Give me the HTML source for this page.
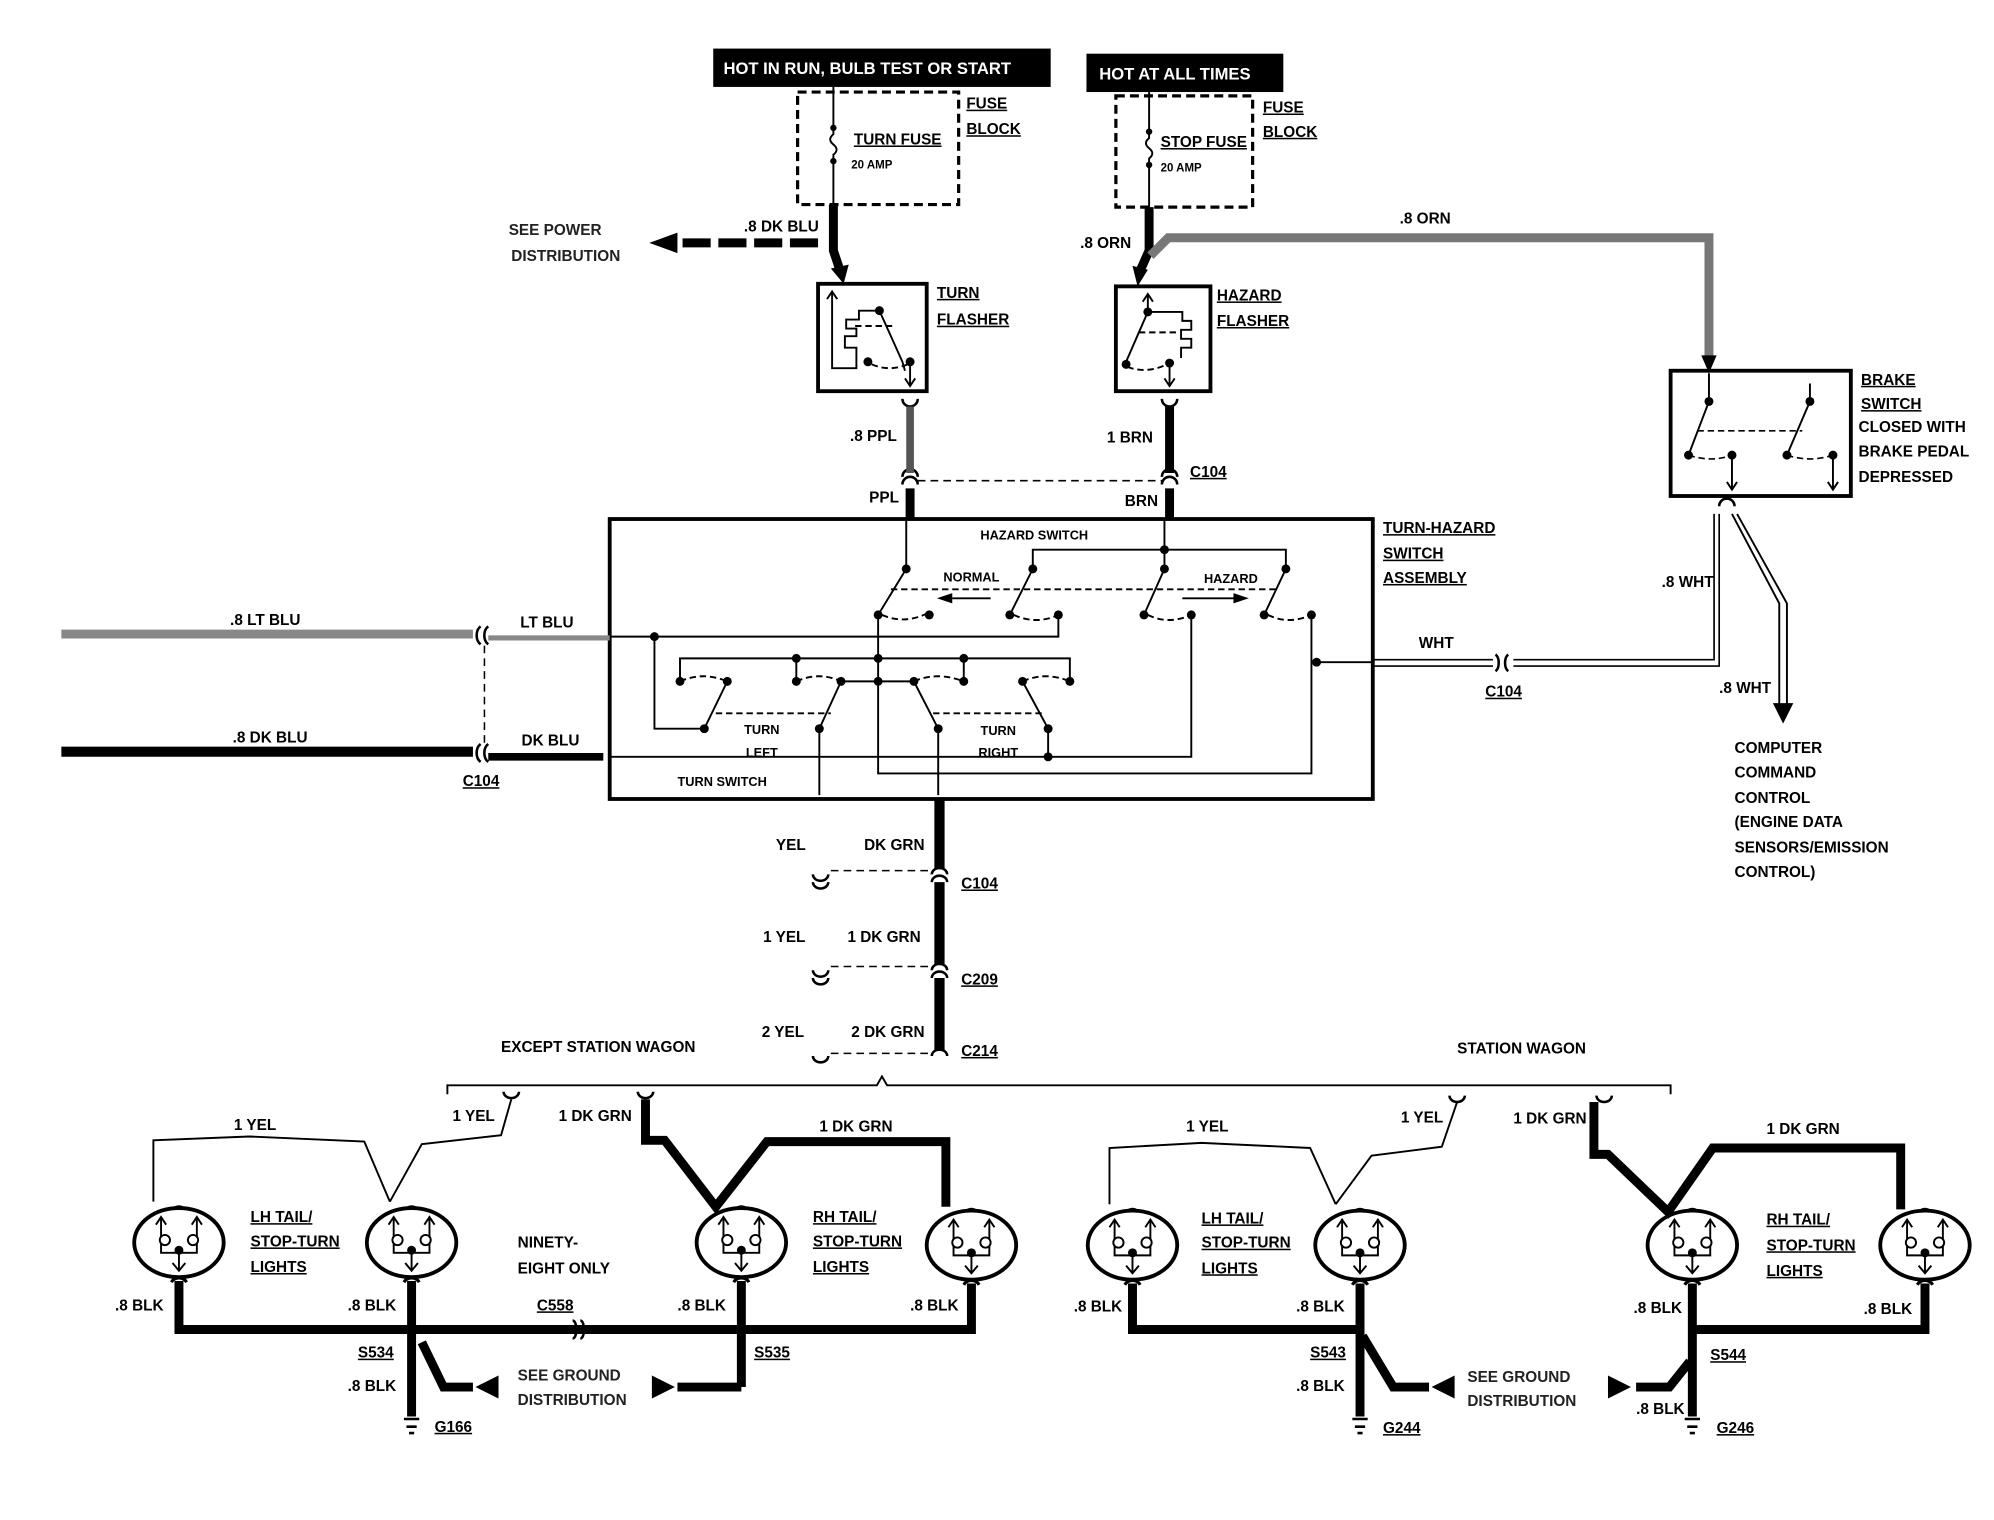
<!DOCTYPE html>
<html><head><meta charset="utf-8"><style>
html,body{margin:0;padding:0;background:#fff;}
svg{display:block;}
text{font-family:"Liberation Sans",sans-serif;font-weight:bold;font-size:12px;fill:#000;}
.u{text-decoration:underline;}
.w{fill:#fff;}
</style></head><body>
<svg width="1994" height="1520" viewBox="0 0 1560 1189" preserveAspectRatio="none" xmlns="http://www.w3.org/2000/svg">
<defs>
<g id="lamp">
 <ellipse cx="0" cy="0" rx="35" ry="27" fill="#fff" stroke="#000" stroke-width="3"/>
 <path d="M-4,-26 a5,5 0 0 1 8,0" fill="none" stroke="#000" stroke-width="2.5"/>
 <path d="M-14,-20 V8 H14 V-20 M-18,-14 L-14,-20 L-10,-14 M10,-14 L14,-20 L18,-14 M0,8 V22 M-5,16 L0,22 L5,16" fill="none" stroke="#000" stroke-width="1.5"/>
 <circle cx="-11" cy="-2" r="4" fill="#fff" stroke="#000" stroke-width="1.5"/>
 <circle cx="11" cy="-2" r="4" fill="#fff" stroke="#000" stroke-width="1.5"/>
 <circle cx="0" cy="6" r="3.5"/>
 <path d="M-6,31 a7,7 0 0 1 12,0" fill="none" stroke="#000" stroke-width="2.5"/>
</g>
</defs>

<!-- top labels -->
<rect x="558" y="38" width="264" height="30" fill="#000"/>
<text x="566" y="58" class="w" style="font-size:13px">HOT IN RUN,  BULB TEST OR START</text>
<rect x="850" y="42" width="154" height="30" fill="#000"/>
<text x="860" y="62" class="w" style="font-size:13px">HOT AT ALL TIMES</text>

<!-- fuse blocks -->
<rect x="624" y="72" width="126" height="88" fill="none" stroke="#000" stroke-width="2.5" stroke-dasharray="7,4"/>
<path d="M652,68 V105 q-5,4 0,8 q5,4 0,8 V160" fill="none" stroke="#000" stroke-width="1.5"/>
<circle cx="652" cy="100" r="2.5"/><circle cx="652" cy="126" r="2.5"/>
<text x="668" y="113" class="u">TURN FUSE</text>
<text x="666" y="132" style="font-size:9px">20 AMP</text>
<text x="756" y="85" class="u">FUSE</text><text x="756" y="105" class="u">BLOCK</text>

<rect x="873" y="75" width="107" height="87" fill="none" stroke="#000" stroke-width="2.5" stroke-dasharray="7,4"/>
<path d="M899,72 V108 q-5,4 0,8 q5,4 0,8 V162" fill="none" stroke="#000" stroke-width="1.5"/>
<circle cx="899" cy="103" r="2.5"/><circle cx="899" cy="129" r="2.5"/>
<text x="908" y="115" class="u">STOP FUSE</text>
<text x="908" y="134" style="font-size:9px">20 AMP</text>
<text x="988" y="88" class="u">FUSE</text><text x="988" y="107" class="u">BLOCK</text>

<!-- dk blu to turn flasher -->
<path d="M652,160 V196 L658,214" fill="none" stroke="#000" stroke-width="7"/>
<path d="M650,210 L660,222 L664,207 Z"/>
<path d="M640,190 H530" fill="none" stroke="#000" stroke-width="7" stroke-dasharray="22,6"/>
<path d="M530,182 L508,190 L530,198 Z"/>
<text x="582" y="181">.8 DK BLU</text>
<text x="398" y="184" style="fill:#222">SEE POWER</text>
<text x="400" y="204" style="fill:#222">DISTRIBUTION</text>

<!-- orn -->
<path d="M899,162 V196 L891,214" fill="none" stroke="#000" stroke-width="7"/>
<path d="M886,208 L890,224 L898,211 Z"/>
<text x="845" y="194">.8 ORN</text>
<path d="M900,200 L914,186 H1337 V282" fill="none" stroke="#777" stroke-width="7"/>
<path d="M1331,278 L1337,292 L1343,278 Z"/>
<text x="1095" y="175">.8 ORN</text>

<!-- turn flasher -->
<rect x="640" y="222" width="85" height="84" fill="none" stroke="#000" stroke-width="3"/>
<path d="M651,228 V288 H670 V272 H661 V263 H670 V257 H662 V250 H672 V243 H688 M688,243 L706,283 L708,290 M712,283 V302 M708,296 L712,302 L716,296 M647,234 L651,228 L655,234" fill="none" stroke="#000" stroke-width="1.5"/>
<path d="M669,255 H698 M682,285 q14,6 28,0" fill="none" stroke="#000" stroke-width="1.5" stroke-dasharray="5,3"/>
<circle cx="688" cy="243" r="3.5"/><circle cx="679" cy="283" r="3.5"/><circle cx="712" cy="283" r="3.5"/>
<text x="733" y="233" class="u">TURN</text><text x="733" y="254" class="u">FLASHER</text>

<!-- hazard flasher -->
<rect x="873" y="224" width="74" height="82" fill="none" stroke="#000" stroke-width="3"/>
<path d="M898,230 V244 H925 V251 H932 V258 H924 V265 H932 V272 H924 V280 M898,244 L881,283 M915,284 V302 M911,296 L915,302 L919,296 M894,236 L898,230 L902,236" fill="none" stroke="#000" stroke-width="1.5"/>
<path d="M891,260 H922 M882,287 q16,6 33,-3" fill="none" stroke="#000" stroke-width="1.5" stroke-dasharray="5,3"/>
<circle cx="898" cy="244" r="3.5"/><circle cx="881" cy="285" r="3.5"/><circle cx="915" cy="284" r="3.5"/>
<text x="952" y="235" class="u">HAZARD</text><text x="952" y="255" class="u">FLASHER</text>

<!-- ppl / brn -->
<path d="M706,312 a6,6 0 0 0 12,0 M706,373 a6,6 0 0 1 12,0 M706,379 a6,6 0 0 1 12,0" fill="none" stroke="#000" stroke-width="2"/>
<path d="M712,318 V370" stroke="#555" stroke-width="6"/>
<path d="M712,382 V406" stroke="#000" stroke-width="7"/>
<path d="M909,312 a6,6 0 0 0 12,0 M909,373 a6,6 0 0 1 12,0 M909,379 a6,6 0 0 1 12,0" fill="none" stroke="#000" stroke-width="2"/>
<path d="M915,318 V370 M915,382 V406" stroke="#000" stroke-width="7"/>
<path d="M718,376 H909" stroke="#000" stroke-width="1.2" stroke-dasharray="6,4"/>
<text x="665" y="345">.8 PPL</text><text x="680" y="393">PPL</text>
<text x="866" y="346">1 BRN</text><text x="880" y="396">BRN</text>
<text x="931" y="373" class="u">C104</text>

<!-- assembly box -->
<rect x="477" y="406" width="597" height="219" fill="none" stroke="#000" stroke-width="3"/>
<text x="1082" y="417" class="u">TURN-HAZARD</text><text x="1082" y="437" class="u">SWITCH</text><text x="1082" y="456" class="u">ASSEMBLY</text>
<text x="767" y="422" style="font-size:10px">HAZARD SWITCH</text>
<g fill="none" stroke="#000" stroke-width="1.5">
 <path d="M709,406 V445 L687,481 V605 H1026 V481"/>
 <path d="M808,445 V430 H1006 V445 L989,481"/>
 <path d="M808,445 L790,481"/>
 <path d="M911,406 V445 L895,481"/>
 <path d="M828,481 V498 H477"/>
 <path d="M932,481 V592 H477"/>
 <path d="M532,533 V515 H837 V533"/>
 <path d="M623,515 V533 M754,515 V533"/>
 <path d="M512,498 V570 H551 L569,533"/>
 <path d="M658,533 L641,570 V622"/>
 <path d="M658,533 H715 L734,570 V622"/>
 <path d="M800,533 L820,570 V592"/>
 <path d="M1030,518 H1074"/>
</g>
<g fill="none" stroke="#000" stroke-width="1.5" stroke-dasharray="5,3">
 <path d="M697,461 H1000"/>
 <path d="M690,481 q18,8 37,-2 M793,481 q18,8 35,0 M898,481 q16,8 34,0 M992,481 q16,8 34,0"/>
 <path d="M532,533 q18,-8 37,0 M623,533 q18,-8 35,0 M715,533 q18,-8 39,0 M800,533 q18,-8 37,0"/>
 <path d="M560,558 H650 M730,558 H818"/>
</g>
<path d="M745,468 H775 M925,468 H965" stroke="#000" stroke-width="1.5"/>
<path d="M733,468 L745,464 L745,472 Z M977,468 L965,464 L965,472 Z"/>
<g>
 <circle cx="709" cy="445" r="3.5"/><circle cx="687" cy="481" r="3.5"/><circle cx="727" cy="481" r="3.5"/>
 <circle cx="808" cy="445" r="3.5"/><circle cx="790" cy="481" r="3.5"/><circle cx="828" cy="481" r="3.5"/>
 <circle cx="911" cy="430" r="3.5"/><circle cx="911" cy="445" r="3.5"/><circle cx="895" cy="481" r="3.5"/><circle cx="932" cy="481" r="3.5"/>
 <circle cx="1006" cy="445" r="3.5"/><circle cx="989" cy="481" r="3.5"/><circle cx="1026" cy="481" r="3.5"/>
 <circle cx="512" cy="498" r="3.5"/><circle cx="1030" cy="518" r="3.5"/>
 <circle cx="623" cy="515" r="3.5"/><circle cx="687" cy="515" r="3.5"/><circle cx="754" cy="515" r="3.5"/>
 <circle cx="532" cy="533" r="3.5"/><circle cx="569" cy="533" r="3.5"/><circle cx="623" cy="533" r="3.5"/><circle cx="658" cy="533" r="3.5"/>
 <circle cx="687" cy="533" r="3.5"/><circle cx="715" cy="533" r="3.5"/><circle cx="754" cy="533" r="3.5"/><circle cx="800" cy="533" r="3.5"/><circle cx="837" cy="533" r="3.5"/>
 <circle cx="551" cy="570" r="3.5"/><circle cx="641" cy="570" r="3.5"/><circle cx="734" cy="570" r="3.5"/><circle cx="820" cy="570" r="3.5"/><circle cx="820" cy="592" r="3.5"/>
</g>
<text x="760" y="455" style="font-size:10px" text-anchor="middle">NORMAL</text>
<text x="963" y="456" style="font-size:10px" text-anchor="middle">HAZARD</text>
<text x="596" y="574" style="font-size:10px" text-anchor="middle">TURN</text><text x="596" y="592" style="font-size:10px" text-anchor="middle">LEFT</text>
<text x="781" y="575" style="font-size:10px" text-anchor="middle">TURN</text><text x="781" y="592" style="font-size:10px" text-anchor="middle">RIGHT</text>
<text x="565" y="615" style="font-size:10px" text-anchor="middle">TURN SWITCH</text>

<!-- left wires -->
<path d="M48,496 H370" stroke="#888" stroke-width="7"/>
<path d="M382,499 H477" stroke="#888" stroke-width="4"/>
<path d="M48,588 H370" stroke="#000" stroke-width="8"/>
<path d="M382,592 H472" stroke="#000" stroke-width="6"/>
<path d="M376,490 a6,8 0 0 0 0,14 M382,490 a6,8 0 0 0 0,14 M376,582 a6,8 0 0 0 0,14 M382,582 a6,8 0 0 0 0,14" fill="none" stroke="#000" stroke-width="2"/>
<path d="M379,505 V582" stroke="#000" stroke-width="1.2" stroke-dasharray="6,4"/>
<text x="180" y="489">.8 LT BLU</text><text x="407" y="491">LT BLU</text>
<text x="182" y="581">.8 DK BLU</text><text x="408" y="583">DK BLU</text>
<text x="362" y="615" class="u">C104</text>

<!-- wht -->
<path d="M1074,516 H1168 M1074,521 H1168 M1184,516 H1341 V402 M1184,521 H1345 V402" fill="none" stroke="#000" stroke-width="1.3"/>
<path d="M1170,512 a4,7 0 0 1 0,13 M1180,512 a4,7 0 0 0 0,13" fill="none" stroke="#000" stroke-width="2"/>
<text x="1110" y="507">WHT</text><text x="1162" y="545" class="u">C104</text>
<path d="M1355,402 L1392,472 V552 M1359,402 L1398,472 V552" fill="none" stroke="#000" stroke-width="1.5"/>
<path d="M1387,550 L1395,566 L1403,550 Z"/>
<path d="M1345,396 a6,6 0 0 1 12,0" fill="none" stroke="#000" stroke-width="2"/>
<text x="1300" y="459">.8 WHT</text><text x="1345" y="542">.8 WHT</text>
<text x="1357" y="589">COMPUTER</text><text x="1357" y="608">COMMAND</text><text x="1357" y="628">CONTROL</text>
<text x="1357" y="647">(ENGINE DATA</text><text x="1357" y="667">SENSORS/EMISSION</text><text x="1357" y="686">CONTROL)</text>

<!-- brake switch -->
<rect x="1307" y="290" width="141" height="98" fill="none" stroke="#000" stroke-width="3"/>
<g fill="none" stroke="#000" stroke-width="1.5">
 <path d="M1337,292 V314 L1321,356 M1355,356 V383 M1416,300 V314 L1398,356 M1434,356 V383 M1351,377 L1355,383 L1359,377 M1430,377 L1434,383 L1438,377"/>
</g>
<path d="M1328,337 H1410 M1321,356 q18,6 34,0 M1398,356 q18,6 36,0" fill="none" stroke="#000" stroke-width="1.3" stroke-dasharray="5,3"/>
<circle cx="1337" cy="314" r="3.5"/><circle cx="1321" cy="356" r="3.5"/><circle cx="1355" cy="356" r="3.5"/>
<circle cx="1416" cy="314" r="3.5"/><circle cx="1398" cy="356" r="3.5"/><circle cx="1434" cy="356" r="3.5"/>
<text x="1456" y="301" class="u">BRAKE</text><text x="1456" y="320" class="u">SWITCH</text>
<text x="1454" y="338">CLOSED WITH</text><text x="1454" y="357">BRAKE PEDAL</text><text x="1454" y="377">DEPRESSED</text>

<!-- down trunk -->
<path d="M735,625 V680 M735,690 V755 M735,765 V822" stroke="#000" stroke-width="8"/>
<g fill="none" stroke="#000" stroke-width="2">
 <path d="M729,684 a6,5 0 0 1 12,0 M729,690 a6,5 0 0 1 12,0 M729,759 a6,5 0 0 1 12,0 M729,765 a6,5 0 0 1 12,0 M729,826 a6,5 0 0 1 12,0"/>
 <path d="M636,684 a6,5 0 0 0 12,0 M636,690 a6,5 0 0 0 12,0 M636,759 a6,5 0 0 0 12,0 M636,765 a6,5 0 0 0 12,0 M636,826 a6,5 0 0 0 12,0"/>
</g>
<path d="M650,681 H729 M650,756 H729 M650,824 H729" stroke="#000" stroke-width="1.2" stroke-dasharray="6,4"/>
<text x="607" y="665">YEL</text><text x="676" y="665">DK GRN</text><text x="752" y="695" class="u">C104</text>
<text x="597" y="737">1 YEL</text><text x="663" y="737">1 DK GRN</text><text x="752" y="770" class="u">C209</text>
<text x="596" y="811">2 YEL</text><text x="666" y="811">2 DK GRN</text><text x="752" y="826" class="u">C214</text>

<!-- bracket -->
<path d="M350,856 V849 H686 L690,842 L694,849 H1307 V856" fill="none" stroke="#000" stroke-width="1.5"/>
<text x="392" y="823">EXCEPT STATION WAGON</text><text x="1140" y="824">STATION WAGON</text>

<!-- lamps -->
<use href="#lamp" x="140" y="972"/><use href="#lamp" x="322" y="972"/>
<use href="#lamp" x="580" y="972"/><use href="#lamp" x="760" y="974"/>
<use href="#lamp" x="886" y="974"/><use href="#lamp" x="1064" y="974"/>
<use href="#lamp" x="1324" y="974"/><use href="#lamp" x="1506" y="974"/>

<!-- except SW wiring -->
<path d="M394,854 a6,5 0 0 0 12,0 M499,854 a6,5 0 0 0 12,0 M1134,857 a6,5 0 0 0 12,0 M1249,857 a6,5 0 0 0 12,0" fill="none" stroke="#000" stroke-width="2"/>
<path d="M120,940 V892 L195,889 L285,893 L305,940 M305,940 L330,895 L392,888 L400,860" fill="none" stroke="#000" stroke-width="1.5"/>
<path d="M505,860 V892 H520 L560,944 L600,893 H740 V944" fill="none" stroke="#000" stroke-width="7"/>
<text x="183" y="884">1 YEL</text><text x="354" y="877">1 YEL</text>
<text x="437" y="877">1 DK GRN</text><text x="641" y="885">1 DK GRN</text>
<path d="M140,1002 V1040 H760 V1004 M322,1002 V1108 M580,1002 V1085" fill="none" stroke="#000" stroke-width="7"/>
<path d="M330,1050 L347,1085 H370 M580,1085 H530" fill="none" stroke="#000" stroke-width="7"/>
<path d="M390,1076 L372,1085 L390,1094 Z M510,1076 L528,1085 L510,1094 Z"/>
<path d="M448,1033 a3,7 0 0 1 0,14 M454,1033 a3,7 0 0 1 0,14" fill="none" stroke="#000" stroke-width="2"/>
<path d="M316,1110 H328 M318,1116 H326 M320,1121 H324" stroke="#000" stroke-width="2"/>
<text x="90" y="1025">.8 BLK</text><text x="272" y="1025">.8 BLK</text><text x="530" y="1025">.8 BLK</text><text x="712" y="1025">.8 BLK</text>
<text x="280" y="1062" class="u">S534</text><text x="590" y="1062" class="u">S535</text><text x="420" y="1025" class="u">C558</text>
<text x="272" y="1088">.8 BLK</text><text x="340" y="1120" class="u">G166</text>
<text x="405" y="1080" style="fill:#222">SEE GROUND</text><text x="405" y="1099" style="fill:#222">DISTRIBUTION</text>
<text x="405" y="976">NINETY-</text><text x="405" y="996">EIGHT ONLY</text>
<text x="196" y="956" class="u">LH TAIL/</text><text x="196" y="975" class="u">STOP-TURN</text><text x="196" y="995" class="u">LIGHTS</text>
<text x="636" y="956" class="u">RH TAIL/</text><text x="636" y="975" class="u">STOP-TURN</text><text x="636" y="995" class="u">LIGHTS</text>

<!-- SW wiring -->
<path d="M868,942 V898 L940,894 L1025,898 L1045,942 M1045,942 L1073,904 L1128,897 L1140,862" fill="none" stroke="#000" stroke-width="1.5"/>
<path d="M1247,862 V903 H1258 L1305,948 L1340,898 H1487 V946" fill="none" stroke="#000" stroke-width="7"/>
<text x="928" y="885">1 YEL</text><text x="1096" y="878">1 YEL</text>
<text x="1184" y="879">1 DK GRN</text><text x="1382" y="887">1 DK GRN</text>
<path d="M886,1004 V1040 H1064 M1064,1004 V1108 M1324,1004 V1108 M1324,1040 H1506 V1004" fill="none" stroke="#000" stroke-width="7"/>
<path d="M1066,1045 L1090,1085 H1118 M1322,1065 L1306,1085 H1280" fill="none" stroke="#000" stroke-width="7"/>
<path d="M1138,1076 L1120,1085 L1138,1094 Z M1258,1076 L1276,1085 L1258,1094 Z"/>
<path d="M1058,1110 H1070 M1060,1116 H1068 M1062,1121 H1066 M1318,1110 H1330 M1320,1116 H1328 M1322,1121 H1326" stroke="#000" stroke-width="2"/>
<text x="840" y="1026">.8 BLK</text><text x="1014" y="1026">.8 BLK</text><text x="1278" y="1027">.8 BLK</text><text x="1458" y="1028">.8 BLK</text>
<text x="1025" y="1062" class="u">S543</text><text x="1338" y="1064" class="u">S544</text>
<text x="1014" y="1088">.8 BLK</text><text x="1280" y="1106">.8 BLK</text>
<text x="1082" y="1121" class="u">G244</text><text x="1343" y="1121" class="u">G246</text>
<text x="1148" y="1081" style="fill:#222">SEE GROUND</text><text x="1148" y="1100" style="fill:#222">DISTRIBUTION</text>
<text x="940" y="957" class="u">LH TAIL/</text><text x="940" y="976" class="u">STOP-TURN</text><text x="940" y="996" class="u">LIGHTS</text>
<text x="1382" y="958" class="u">RH TAIL/</text><text x="1382" y="978" class="u">STOP-TURN</text><text x="1382" y="998" class="u">LIGHTS</text>
</svg>
</body></html>
